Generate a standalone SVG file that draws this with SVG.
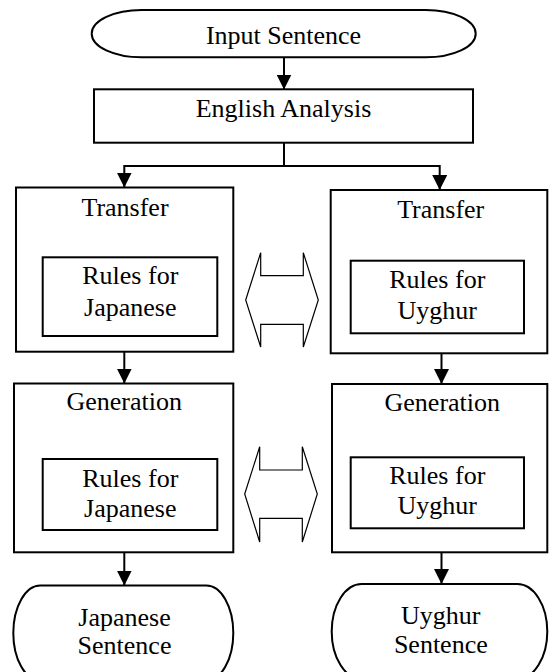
<svg xmlns="http://www.w3.org/2000/svg" width="549" height="672" viewBox="0 0 549 672">
<style>
.box{fill:#fff;stroke:#000;stroke-width:2}
.dbl{fill:#fff;stroke:#000;stroke-width:1.2}
text{font-family:'Liberation Serif','Times New Roman',Times,'DejaVu Serif',serif;font-size:26px;fill:#000;text-anchor:middle}
.c{fill:none;stroke:#000;stroke-width:2}
</style>
<defs>
<marker id="ah" markerUnits="userSpaceOnUse" markerWidth="15" markerHeight="15" refX="15" refY="7.5" orient="auto">
<path d="M0,0 L15,7.5 L0,15 Z" fill="#000"/>
</marker>
</defs>
<rect width="549" height="672" fill="#fff"/>
<g id="connectors">
<line class="c" x1="284" y1="57" x2="284" y2="89.5" marker-end="url(#ah)"/>
<path class="c" d="M284,143 V166 H124.3 V187.5" marker-end="url(#ah)"/>
<path class="c" d="M284,166 H439.7 V190" marker-end="url(#ah)"/>
<line class="c" x1="124.3" y1="352" x2="124.3" y2="383.5" marker-end="url(#ah)"/>
<line class="c" x1="441.5" y1="353.5" x2="441.5" y2="384" marker-end="url(#ah)"/>
<line class="c" x1="124.3" y1="552.5" x2="124.3" y2="585.5" marker-end="url(#ah)"/>
<line class="c" x1="441.5" y1="552.5" x2="441.5" y2="584" marker-end="url(#ah)"/>
</g>
<g id="input">
<path class="box" d="M141.7,10 H425.7 A50 23.65 0 0 1 425.7,57.3 H141.7 A50 23.65 0 0 1 141.7,10 Z"/>
<text x="283.5" y="44" font-family="Liberation Serif, serif">Input Sentence</text>
</g>
<g id="english">
<rect class="box" x="94" y="89.3" width="379" height="53.4"/>
<text x="283.5" y="116.7" font-family="Liberation Serif, serif">English Analysis</text>
</g>
<g id="transfer-ja">
<rect class="box" x="16" y="187.5" width="217.3" height="164.2"/>
<text x="125" y="215.7">Transfer</text>
<rect class="box" x="42.7" y="257.3" width="174.6" height="78.7"/>
<text x="130.3" y="284.3">Rules for</text>
<text x="130.3" y="315.5">Japanese</text>
</g>
<g id="transfer-ug">
<rect class="box" x="330.7" y="190" width="216.6" height="163.3"/>
<text x="440.7" y="218.3">Transfer</text>
<rect class="box" x="350.7" y="260.7" width="173.3" height="72.6"/>
<text x="437.3" y="288.3">Rules for</text>
<text x="437.3" y="318.5">Uyghur</text>
</g>
<g id="link-transfer">
<polygon class="dbl" points="245.7,300 260.7,252.7 260.7,275.7 303.3,275.7 303.3,252.7 318.3,300 303.3,347 303.3,324.3 260.7,324.3 260.7,347"/>
</g>
<g id="generation-ja">
<rect class="box" x="14" y="383.5" width="219.3" height="168.8"/>
<text x="124.2" y="410">Generation</text>
<rect class="box" x="42.7" y="459" width="174.6" height="71"/>
<text x="130.3" y="486.7">Rules for</text>
<text x="130.3" y="516.7">Japanese</text>
</g>
<g id="generation-ug">
<rect class="box" x="332" y="384" width="215.3" height="168.3"/>
<text x="442.3" y="410.5">Generation</text>
<rect class="box" x="350.7" y="457.3" width="173.3" height="71"/>
<text x="437.3" y="484.3">Rules for</text>
<text x="437.3" y="514.3">Uyghur</text>
</g>
<g id="link-generation">
<polygon class="dbl" points="244.7,494 259.7,446.7 259.7,470 302.3,470 302.3,446.7 317.3,494 302.3,542 302.3,518.3 259.7,518.3 259.7,542"/>
</g>
<g id="out-ja">
<path class="box" d="M40.3,585.5 H206.3 A27 47.5 0 0 1 206.3,680.5 H40.3 A27 47.5 0 0 1 40.3,585.5 Z"/>
<text x="124.5" y="626">Japanese</text>
<text x="124.5" y="653.5">Sentence</text>
</g>
<g id="out-ug">
<path class="box" d="M361.7,584 H517.3 A30 47.5 0 0 1 517.3,679 H361.7 A30 47.5 0 0 1 361.7,584 Z"/>
<text x="440.8" y="623.5">Uyghur</text>
<text x="440.8" y="653.3">Sentence</text>
</g>
</svg>
